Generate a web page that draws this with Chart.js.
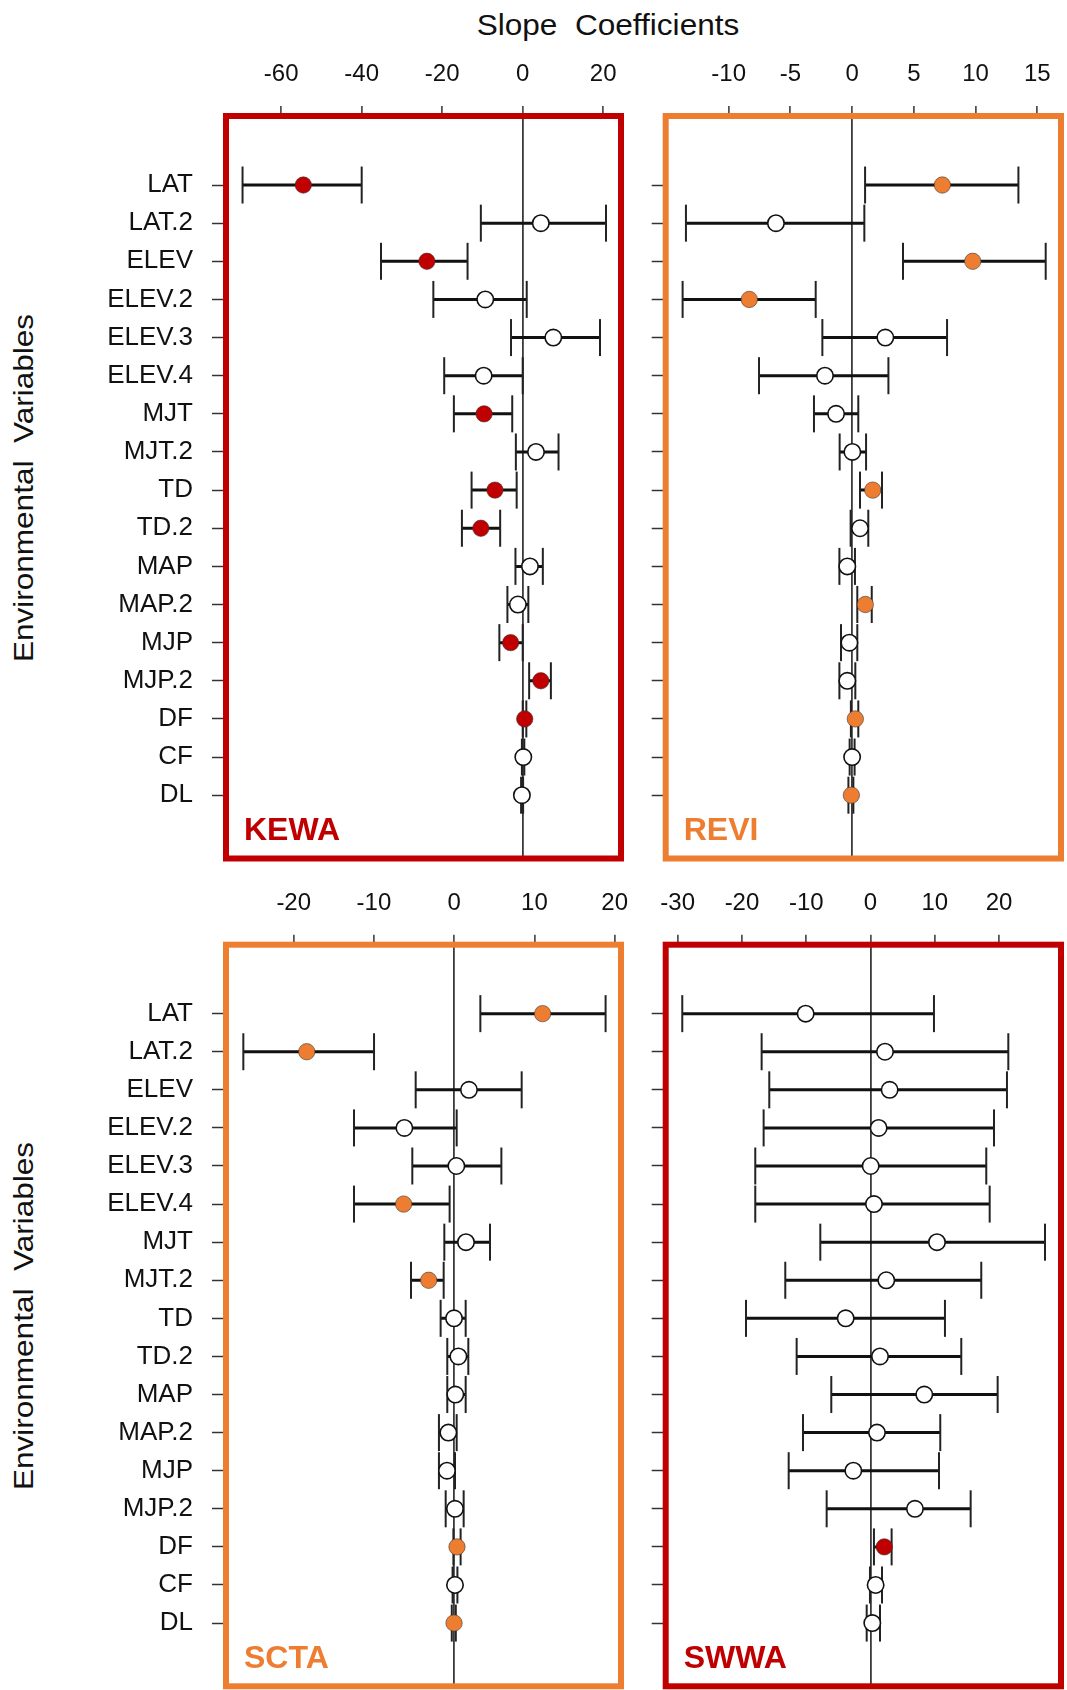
<!DOCTYPE html>
<html><head><meta charset="utf-8">
<script src="https://cdn.jsdelivr.net/npm/chart.js@4.4.1/dist/chart.umd.min.js"></script>
<style>
html,body{margin:0;padding:0;background:#fff}
body{width:1067px;height:1690px;position:relative;overflow:hidden;font-family:"Liberation Sans",Arial,sans-serif}
canvas{position:absolute}
.lbl{position:absolute;white-space:pre;color:#111;line-height:1;transform-origin:50% 50%}
</style></head><body>
<div class="lbl" id="xtitle" style="left:608px;top:25px;font-size:30px">Slope  Coefficients</div>
<div class="lbl ytitle" style="left:24px;top:488px;font-size:28px">Environmental  Variables</div>
<div class="lbl ytitle" style="left:24px;top:1316px;font-size:28px">Environmental  Variables</div>
<canvas id="c1" width="680" height="900" style="left:0;top:0"></canvas>
<canvas id="c2" width="487" height="900" style="left:640px;top:0"></canvas>
<canvas id="c3" width="680" height="850" style="left:0;top:880px"></canvas>
<canvas id="c4" width="487" height="850" style="left:640px;top:880px"></canvas>
<script>
// ---------- data ----------
const categories = ['LAT','LAT.2','ELEV','ELEV.2','ELEV.3','ELEV.4','MJT','MJT.2','TD','TD.2','MAP','MAP.2','MJP','MJP.2','DF','CF','DL'];

const kewaTicks = [-60,-40,-20,0,20];
const kewaEst  = [-54.5, 4.5,-23.8,-9.3, 7.6,-9.7,-9.6, 3.3,-6.9,-10.4, 1.8,-1.2,-3.0, 4.5, 0.5, 0.15,-0.2];
const kewaLow  = [-69.6,-10.4,-35.2,-22.2,-2.9,-19.5,-17.1,-1.7,-12.7,-15.1,-1.8,-3.8,-5.8, 1.6, 0.0,-0.2,-0.4];
const kewaHigh = [-40.0, 20.7,-13.7, 1.0,19.2, 0.0,-2.6, 8.9,-1.5,-5.6, 5.0, 1.4, 0.0, 7.0, 0.9, 0.4, 0.1];
const kewaSig  = [1,0,1,0,0,0,1,0,1,1,0,0,1,1,1,0,0];

const reviTicks = [-10,-5,0,5,10,15];
const reviEst  = [7.31,-6.17, 9.77,-8.33, 2.69,-2.20,-1.30, 0.02, 1.67, 0.64,-0.39, 1.07,-0.22,-0.39, 0.26, 0.0,-0.06];
const reviLow  = [1.05,-13.46,4.12,-13.73,-2.41,-7.54,-3.09,-1.01, 0.64,-0.12,-1.03, 0.42,-0.90,-1.03,-0.10,-0.2,-0.30];
const reviHigh = [13.47,0.99,15.68,-2.95, 7.69, 2.94, 0.50, 1.13, 2.42, 1.31, 0.23, 1.59, 0.42, 0.26, 0.50, 0.2, 0.10];
const reviSig  = [1,0,1,1,0,0,0,0,1,0,0,1,0,0,1,0,1];

const sctaTicks = [-20,-10,0,10,20];
const sctaEst  = [11.02,-18.38, 1.84,-6.21, 0.27,-6.30, 1.47,-3.18,-0.02, 0.52, 0.14,-0.73,-0.90, 0.10, 0.35, 0.10,-0.02];
const sctaLow  = [3.26,-26.28,-4.80,-12.49,-5.22,-12.49,-1.23,-5.38,-1.69,-0.86,-0.86,-1.90,-1.90,-1.06,-0.10,-0.20,-0.30];
const sctaHigh = [18.87,-9.99, 8.41, 0.31, 5.88,-0.57, 4.46,-1.31, 1.43, 1.76, 1.43, 0.31, 0.10, 1.18, 0.80, 0.40, 0.20];
const sctaSig  = [1,1,0,0,0,1,0,1,0,0,0,0,0,0,1,0,1];

const swwaTicks = [-30,-20,-10,0,10,20];
const swwaEst  = [-10.09, 2.26, 2.98, 1.27, 0.03, 0.54,10.35, 2.46,-3.86, 1.48, 8.37, 1.01,-2.67, 6.92, 2.15, 0.80, 0.28];
const swwaLow  = [-29.29,-16.94,-15.75,-16.63,-17.93,-17.93,-7.81,-13.26,-19.37,-11.49,-6.10,-10.50,-12.73,-6.82, 0.54,-0.08,-0.59];
const swwaHigh = [9.88,21.45,21.24,19.22,18.02,18.55,27.16,17.24,11.59,14.13,19.79,10.86,10.66,15.59, 3.29, 1.79, 1.48];
const swwaSig  = [0,0,0,0,0,0,0,0,0,0,0,0,0,0,1,0,0];

// ---------- styling ----------
const RED = '#C00000', ORANGE = '#ED7D31';
const FONT = '"Liberation Sans", Arial, sans-serif';

document.querySelectorAll('#xtitle').forEach(el => {
  const k = 263 / el.offsetWidth;
  el.style.transform = 'translate(-50%,-50%) scaleX(' + k + ')';
});
document.querySelectorAll('.ytitle').forEach(el => {
  const k = 348 / el.offsetWidth;
  el.style.transform = 'translate(-50%,-50%) rotate(-90deg) scaleX(' + k + ')';
});

const boxPlugin = {
  id: 'panelBox',
  afterDatasetsDraw(chart, args, opts) {
    const {ctx, chartArea: a} = chart;
    ctx.save();
    ctx.strokeStyle = opts.color; ctx.lineWidth = 6;
    ctx.strokeRect(a.left, a.top, a.right - a.left, a.bottom - a.top);
    ctx.fillStyle = opts.color;
    ctx.font = 'bold 32px ' + FONT;
    ctx.textBaseline = 'middle'; ctx.textAlign = 'left';
    ctx.fillText(opts.name, a.left + 18, a.bottom - 27);
    ctx.restore();
  }
};

function makePanel(id, p) {
  const whisk = [];
  categories.forEach((c, i) => {
    whisk.push({x: p.low[i], y: i}, {x: p.high[i], y: i}, {x: null, y: null});
  });
  const pts = categories.map((c, i) => ({x: p.est[i], y: i}));
  new Chart(document.getElementById(id), {
    type: 'scatter',
    data: {
      datasets: [
        {
          data: pts, order: 0,
          pointRadius: 8.2,
          pointBackgroundColor: p.sig.map(s => s ? p.color : '#ffffff'),
          pointBorderColor: p.sig.map(s => s ? 'rgba(50,50,50,0.55)' : '#111'),
          pointBorderWidth: p.sig.map(s => s ? 1 : 1.6),
          showLine: false, clip: false
        },
        {
          data: whisk, order: 1,
          showLine: true, spanGaps: false,
          borderColor: '#111', borderWidth: 3,
          pointStyle: 'line', pointRotation: 90, pointRadius: 18.5,
          pointBorderColor: '#222', pointBorderWidth: 2,
          clip: false
        }
      ]
    },
    options: {
      responsive: false, animation: false, events: [],
      layout: {padding: p.pad},
      plugins: {legend: {display: false}, tooltip: {enabled: false}, panelBox: {color: p.color, name: p.name}},
      scales: {
        x: {
          type: 'linear', position: 'top', min: p.xmin, max: p.xmax,
          afterBuildTicks: ax => { ax.ticks = p.ticks.map(v => ({value: v})); },
          afterFit: s => { s.height = p.xH; },
          border: {display: false},
          grid: {
            color: c => (c.tick && c.tick.value === 0) ? '#3a3a3a' : 'rgba(0,0,0,0)',
            tickColor: '#333', lineWidth: 1.8, tickWidth: 1.5, tickLength: 10,
            drawOnChartArea: true, drawTicks: true
          },
          ticks: {color: '#111', font: {family: FONT, size: 24}, padding: 17, maxRotation: 0, autoSkip: false}
        },
        y: {
          type: 'linear', reverse: true, min: -1.81, max: 17.66,
          afterBuildTicks: ax => { ax.ticks = categories.map((c, i) => ({value: i})); },
          afterFit: s => { s.width = p.yW; },
          border: {display: false},
          grid: {drawOnChartArea: false, drawTicks: true, tickLength: 14, tickColor: '#333', tickWidth: 1.5},
          ticks: {
            color: '#111', font: {family: FONT, size: 26}, padding: 19, autoSkip: false,
            callback: v => p.showLabels ? categories[v] : ''
          }
        }
      }
    },
    plugins: [boxPlugin]
  });
}

makePanel('c1', {name: 'KEWA', color: RED, est: kewaEst, low: kewaLow, high: kewaHigh, sig: kewaSig, ticks: kewaTicks,
  xmin: -73.71, xmax: 24.42, showLabels: true, xH: 116, yW: 226, pad: {left: 0, top: 0, right: 59, bottom: 41.5}});
makePanel('c2', {name: 'REVI', color: ORANGE, est: reviEst, low: reviLow, high: reviHigh, sig: reviSig, ticks: reviTicks,
  xmin: -15.10, xmax: 16.92, showLabels: false, xH: 116, yW: 25.7, pad: {left: 0, top: 0, right: 66, bottom: 41.5}});
makePanel('c3', {name: 'SCTA', color: ORANGE, est: sctaEst, low: sctaLow, high: sctaHigh, sig: sctaSig, ticks: sctaTicks,
  xmin: -28.44, xmax: 20.79, showLabels: true, xH: 64.7, yW: 226, pad: {left: 0, top: 0, right: 59, bottom: 43.7}});
makePanel('c4', {name: 'SWWA', color: RED, est: swwaEst, low: swwaLow, high: swwaHigh, sig: swwaSig, ticks: swwaTicks,
  xmin: -31.87, xmax: 29.65, showLabels: false, xH: 64.7, yW: 25.7, pad: {left: 0, top: 0, right: 66, bottom: 43.7}});
</script>
</body></html>
